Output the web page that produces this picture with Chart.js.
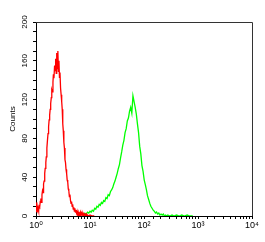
<!DOCTYPE html>
<html>
<head>
<meta charset="utf-8">
<script src="https://cdn.jsdelivr.net/npm/chart.js@4/dist/chart.umd.min.js"></script>
<style>
	body { margin: 0; background: #fff; }
	canvas { display: block; }
</style>
</head>
<body>
<canvas id="grafico" width="265" height="242"></canvas>
<script>
// histogram channels (log scale) and counts
var canalVermelho = [1.00, 1.02, 1.04, 1.07, 1.09, 1.12, 1.14, 1.17, 1.20, 1.23, 1.26, 1.29, 1.32, 1.35, 1.38, 1.41,
	1.45, 1.48, 1.52, 1.55, 1.59, 1.63, 1.67, 1.71, 1.75, 1.79, 1.83, 1.87, 1.92, 1.96, 2.01, 2.06, 2.10, 2.15,
	2.21, 2.26, 2.31, 2.37, 2.42, 2.48, 2.54, 2.60, 2.66, 2.72, 2.78, 2.85, 2.92, 2.99, 3.06, 3.13, 3.20, 3.28,
	3.36, 3.44, 3.52, 3.60, 3.69, 3.78, 3.87, 3.96, 4.05, 4.15, 4.25, 4.35, 4.45, 4.56, 4.67, 4.78, 4.89, 5.01,
	5.13, 5.25, 5.37, 5.50, 5.63, 5.76, 5.90, 6.04, 6.18, 6.33, 6.48, 6.63, 6.79, 6.95, 7.12, 7.29, 7.46, 7.64,
	7.82, 8.00, 8.2, 8.4, 8.6, 8.8, 9.0, 9.5, 10, 11, 12];
var contagemVermelho = [12, 4, 14, 6, 8, 5, 10, 9, 15, 18, 14, 22, 26, 24, 33, 36,
	44, 49, 55, 61, 70, 78, 85, 92, 99, 104, 110, 116, 122, 130, 128, 138, 146, 142,
	155, 150, 162, 147, 168, 152, 170, 149, 160, 143, 148, 132, 125, 118, 110, 95, 88, 76,
	70, 58, 55, 48, 44, 37, 35, 28, 26, 20, 22, 16, 13, 15, 10, 12, 7, 9,
	5, 8, 4, 6, 3, 5, 2, 4, 1, 3, 2, 4, 1, 3, 1, 2, 0, 2,
	1, 3, 0, 1, 2, 0, 1, 0, 1, 0, 0];

var canalVerde = [6.0, 6.5, 7.0, 7.5, 8.0, 8.5, 9.0, 9.5, 10.0, 10.5, 11.0, 11.6, 12.2, 12.8, 13.4, 14.1,
	14.8, 15.5, 16.3, 17.1, 17.9, 18.8, 19.7, 20.7, 21.7, 22.8, 23.9, 25.1, 26.3, 27.6, 29.0, 30.4,
	31.9, 33.5, 35.1, 36.8, 38.6, 40.5, 42.5, 44.6, 46.8, 49.1, 51.5, 54.0, 56.7, 59.5, 62.4, 65.5,
	68.7, 72.1, 75.6, 79.3, 83.2, 87.3, 91.6, 96.1, 101, 106, 111, 116, 122, 128, 134, 141,
	148, 155, 163, 171, 179, 188, 197, 207, 217, 228, 239, 251, 263, 276, 300, 330, 360, 400,
	450, 500, 560, 630, 700, 800];
var contagemVerde = [0, 1, 2, 1, 3, 2, 4, 3, 5, 4, 6, 5, 8, 7, 10, 9,
	12, 11, 14, 13, 16, 15, 19, 18, 22, 21, 25, 27, 29, 33, 36, 40,
	44, 49, 53, 60, 66, 73, 78, 86, 90, 98, 101, 108, 112, 106, 124, 118,
	112, 105, 95, 86, 72, 64, 52, 46, 37, 32, 27, 21, 17, 13, 10, 8,
	6, 5, 3, 4, 2, 3, 1, 2, 1, 2, 0, 1, 0, 1, 0, 1, 0, 1,
	0, 1, 0, 1, 0, 0];

var potencias = [1, 10, 100, 1000, 10000];
var rotulosX = ['10\u2070', '10\u00b9', '10\u00b2', '10\u00b3', '10\u2074'];
var rotulosY = [0, 40, 80, 120, 160, 200];

function pares(xs, ys) {
	return xs.map(function(x, i) { return { x: x, y: ys[i] }; });
}

var molduraPlugin = {
	id: 'moldura',
	afterDraw: function(chart) {
		var a = chart.chartArea;
		var ctx = chart.ctx;
		ctx.save();
		ctx.strokeStyle = '#333';
		ctx.lineWidth = 1;
		ctx.beginPath();
		ctx.moveTo(a.left, a.top + 0.5);
		ctx.lineTo(a.right + 0.5, a.top + 0.5);
		ctx.lineTo(a.right + 0.5, a.bottom);
		ctx.stroke();
		ctx.restore();
	}
};

var fonte = 'Liberation Sans, Arial, DejaVu Sans, sans-serif';

new Chart(document.getElementById('grafico').getContext('2d'), {
	type: 'line',
	data: {
		datasets: [{
			data: pares(canalVermelho, contagemVermelho),
			borderColor: '#ff0000',
			borderWidth: 1.3,
			pointRadius: 0,
			fill: false,
			tension: 0
		}, {
			data: pares(canalVerde, contagemVerde),
			borderColor: '#00ff00',
			borderWidth: 1.3,
			pointRadius: 0,
			fill: false,
			tension: 0
		}]
	},
	options: {
		responsive: false,
		animation: false,
		layout: { padding: { top: 22, right: 13, left: 0, bottom: 0 } },
		plugins: { legend: { display: false }, tooltip: { enabled: false } },
		scales: {
			x: {
				type: 'logarithmic',
				min: 1,
				max: 10000,
				afterFit: function(scale) { scale.height = 26; },
				grid: { drawOnChartArea: false, color: '#000', tickColor: '#000', tickLength: 3 },
				border: { display: true, color: '#000', width: 1 },
				ticks: {
					autoSkip: false,
					maxRotation: 0,
					padding: 1,
					color: '#000',
					font: { family: fonte, size: 9 },
					callback: function(v) {
						var i = potencias.indexOf(v);
						return i >= 0 ? rotulosX[i] : '';
					}
				}
			},
			y: {
				min: 0,
				max: 200,
				afterFit: function(scale) { scale.width = 36; },
				grid: { drawOnChartArea: false, color: '#000', tickColor: '#000', tickLength: 3 },
				border: { display: true, color: '#000', width: 1 },
				title: {
					display: true,
					text: 'Counts',
					color: '#000',
					font: { family: fonte, size: 8 },
					padding: { top: 8, bottom: 0 }
				},
				ticks: {
					stepSize: 10,
					autoSkip: false,
					minRotation: 90,
					maxRotation: 90,
					crossAlign: 'center',
					padding: 2,
					color: '#000',
					font: { family: fonte, size: 8 },
					callback: function(v) {
						return rotulosY.indexOf(v) >= 0 ? String(v) : '';
					}
				}
			}
		}
	},
	plugins: [molduraPlugin]
});
</script>
</body>
</html>
